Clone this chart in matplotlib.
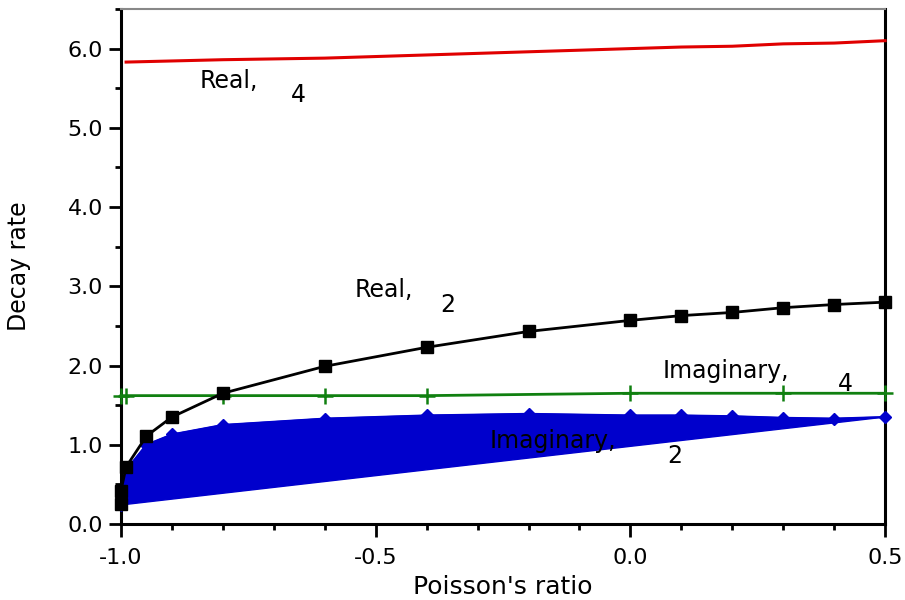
import numpy as np
import matplotlib
matplotlib.use("Agg")
import matplotlib.pyplot as plt
from matplotlib.ticker import MultipleLocator, FormatStrFormatter

# data
nu_real4 = [-0.99, -0.8, -0.6, -0.4, -0.2, 0.0, 0.1, 0.2, 0.3, 0.4, 0.5]
real4 = [5.83, 5.86, 5.88, 5.92, 5.96, 6.00, 6.02, 6.03, 6.06, 6.07, 6.10]

nu_real2 = [-1.0, -1.0, -0.99, -0.95, -0.9, -0.8, -0.6, -0.4, -0.2, 0.0, 0.1, 0.2, 0.3, 0.4, 0.5]
real2 = [0.25, 0.42, 0.72, 1.11, 1.35, 1.65, 1.99, 2.23, 2.43, 2.57, 2.63, 2.67, 2.73, 2.77, 2.80]

nu_imag4 = [-1.0, -0.99, -0.8, -0.6, -0.4, 0.0, 0.3, 0.5]
imag4 = [1.62, 1.62, 1.62, 1.62, 1.62, 1.65, 1.65, 1.65]

nu_imag2 = [-1.0, -1.0, -0.99, -0.95, -0.9, -0.8, -0.6, -0.4, -0.2, 0.0, 0.1, 0.2, 0.3, 0.4, 0.5]
imag2 = [0.24, 0.41, 0.68, 1.00, 1.13, 1.25, 1.33, 1.37, 1.39, 1.37, 1.37, 1.36, 1.34, 1.33, 1.35]

plt.rcParams['font.family'] = ['DejaVu Sans']

fig = plt.figure(figsize=(9.05, 6), dpi=100)
ax = fig.add_axes([0.1337, 0.1267, 0.8443, 0.8583])

# blue series drawn as a closed filled polygon
ax.fill(nu_imag2, imag2, color='#0000CC', zorder=2)
ax.plot(nu_imag2, imag2, color='#0000CC', lw=1.5, marker='D', ms=6.5, zorder=3, clip_on=False)

ax.plot(nu_imag4, imag4, color='#108010', lw=2, marker='+', ms=12, mew=1.8, zorder=4, clip_on=False)
ax.plot(nu_real2, real2, color='black', lw=2, marker='s', ms=9, zorder=5, clip_on=False)
ax.plot(nu_real4, real4, color='#E00000', lw=2.2, zorder=5, clip_on=False)

fs = 17
ax.text(-0.845, 5.50, 'Real,', fontsize=fs, va='baseline')
ax.text(-0.667, 5.32, '4', fontsize=fs, va='baseline')
ax.text(-0.541, 2.86, 'Real,', fontsize=fs, va='baseline')
ax.text(-0.374, 2.67, '2', fontsize=fs, va='baseline')
ax.text(0.064, 1.84, 'Imaginary,', fontsize=fs, va='baseline')
ax.text(0.408, 1.68, '4', fontsize=fs, va='baseline')
ax.text(-0.276, 0.96, 'Imaginary,', fontsize=fs, va='baseline', zorder=6)
ax.text(0.072, 0.77, '2', fontsize=fs, va='baseline')

ax.set_xlim(-1.0, 0.5)
ax.set_ylim(0.0, 6.5)
ax.xaxis.set_major_locator(MultipleLocator(0.5))
ax.xaxis.set_minor_locator(MultipleLocator(0.1))
ax.yaxis.set_major_locator(MultipleLocator(1.0))
ax.yaxis.set_minor_locator(MultipleLocator(0.5))
ax.xaxis.set_major_formatter(FormatStrFormatter('%.1f'))
ax.yaxis.set_major_formatter(FormatStrFormatter('%.1f'))
ax.tick_params(which='major', direction='out', length=9, width=2, labelsize=16, pad=4)
ax.tick_params(which='minor', direction='out', length=4, width=2)
ax.tick_params(axis='x', which='major', pad=8)

for s in ['left', 'bottom', 'right']:
    ax.spines[s].set_linewidth(2.2)
    ax.spines[s].set_color('black')
ax.spines['top'].set_linewidth(1.5)
ax.spines['top'].set_color('#888888')

ax.set_xlabel("Poisson's ratio", fontsize=18, labelpad=5)
ax.set_ylabel('Decay rate', fontsize=17, labelpad=26)

fig.savefig('out.png', dpi=100)
